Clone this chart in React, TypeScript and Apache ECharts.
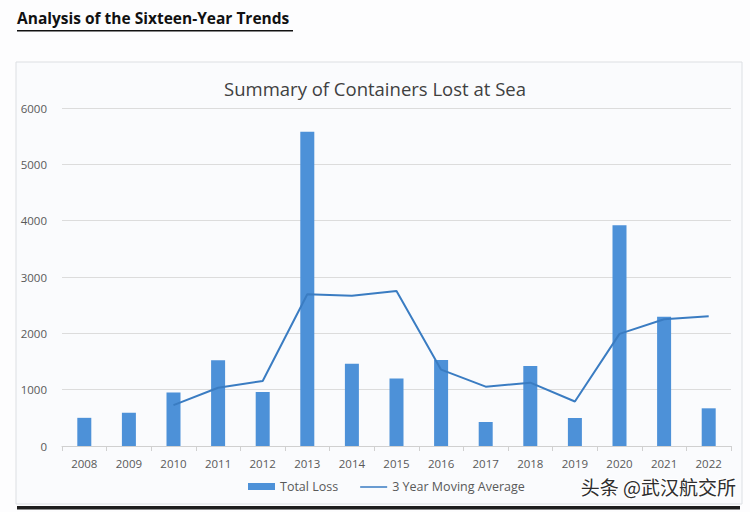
import React, { useEffect, useRef } from "react";
import * as echarts from "echarts";

const years = ["2008", "2009", "2010", "2011", "2012", "2013", "2014", "2015", "2016", "2017", "2018", "2019", "2020", "2021", "2022"];
const totalLoss = [500, 590, 950, 1520, 960, 5580, 1460, 1200, 1527, 426, 1420, 497, 3920, 2296, 669];
const movingAvg = [null, null, 725, 1035, 1155, 2695, 2668, 2750, 1355, 1053, 1124, 790, 1990, 2250, 2305];
const yTicks = [0, 1000, 2000, 3000, 4000, 5000, 6000];

const FONT = "'Open Sans', 'DejaVu Sans', sans-serif";

export default function App() {
  const ref = useRef<HTMLDivElement>(null);
  useEffect(() => {
    if (!ref.current) return;
    const chart = echarts.init(ref.current, null, { renderer: "svg" });
    chart.setOption({
      animation: false,
      backgroundColor: "#fdfdfe",
      title: {
        text: "Summary of Containers Lost at Sea",
        left: "center",
        top: 74,
        textStyle: { fontFamily: FONT, fontSize: 18.5, fontWeight: "normal", color: "#404040" },
      },
      grid: { left: 62, right: 19, top: 108, bottom: 66, containLabel: false },
      legend: {
        left: 243,
        top: 475,
        itemWidth: 27,
        itemHeight: 7,
        itemGap: 22,
        textStyle: { fontFamily: FONT, fontSize: 12.5, color: "#595959" },
        data: [
          { name: "Total Loss", icon: "rect" },
          {
            name: "3 Year Moving Average",
            icon: "path://M0,0h0.01v0.01h-0.01z M0,3.2h30v1.6h-30z M0,7h0.01v0.01h-0.01z",
            itemStyle: { color: "#3a7cc2" },
          },
        ],
      },
      xAxis: {
        type: "category",
        data: years,
        boundaryGap: true,
        axisLine: { lineStyle: { color: "#d0d0d0" } },
        axisTick: { show: true, alignWithLabel: false, length: 5, lineStyle: { color: "#d0d0d0" } },
        axisLabel: { fontFamily: FONT, fontSize: 11.5, color: "#595959", margin: 11 },
      },
      yAxis: {
        type: "value",
        min: yTicks[0],
        max: yTicks[yTicks.length - 1],
        interval: 1000,
        axisLine: { show: false },
        axisTick: { show: false },
        splitLine: { lineStyle: { color: "#dcdcdc", width: 1 } },
        axisLabel: {
          fontFamily: FONT,
          fontSize: 11.5,
          color: "#595959",
          margin: 15,
          formatter: (v: number) => String(v),
        },
      },
      series: [
        {
          name: "Total Loss",
          type: "bar",
          data: totalLoss,
          barWidth: 14,
          itemStyle: { color: "#4d91d8" },
        },
        {
          name: "3 Year Moving Average",
          type: "line",
          data: movingAvg,
          symbol: "none",
          connectNulls: false,
          lineStyle: { color: "#3a7cc2", width: 2 },
          itemStyle: { color: "#3a7cc2" },
        },
      ],
      graphic: [
        {
          type: "rect",
          z: -10,
          silent: true,
          shape: { x: 16, y: 62, width: 726, height: 442 },
          style: { fill: "#fafbfd", stroke: "#dcdfe3", lineWidth: 1 },
        },
        {
          type: "rect",
          silent: true,
          shape: { x: 17, y: 506, width: 723, height: 3.5 },
          style: { fill: "#1e1e1e" },
        },
        {
          type: "text",
          left: 17,
          top: 10,
          style: {
            text: "Analysis of the Sixteen-Year Trends",
            fontFamily: FONT,
            fontSize: 15.5,
            fontWeight: "bold",
            fill: "#111111",
          },
        },
        {
          type: "rect",
          silent: true,
          shape: { x: 17, y: 30, width: 276, height: 1.5 },
          style: { fill: "#111111" },
        },
        {
          type: "text",
          right: 13,
          top: 476,
          style: {
            text: "头条 @武汉航交所",
            fontFamily: "'Noto Sans CJK SC', sans-serif",
            fontSize: 19,
            fill: "#2e2e2e",
            stroke: "#ffffff",
            lineWidth: 2,
          },
        },
      ],
    });
    return () => chart.dispose();
  }, []);
  return (
    <div
      ref={ref}
      style={{ position: "fixed", left: 0, top: 0, width: 750, height: 512 }}
    />
  );
}
